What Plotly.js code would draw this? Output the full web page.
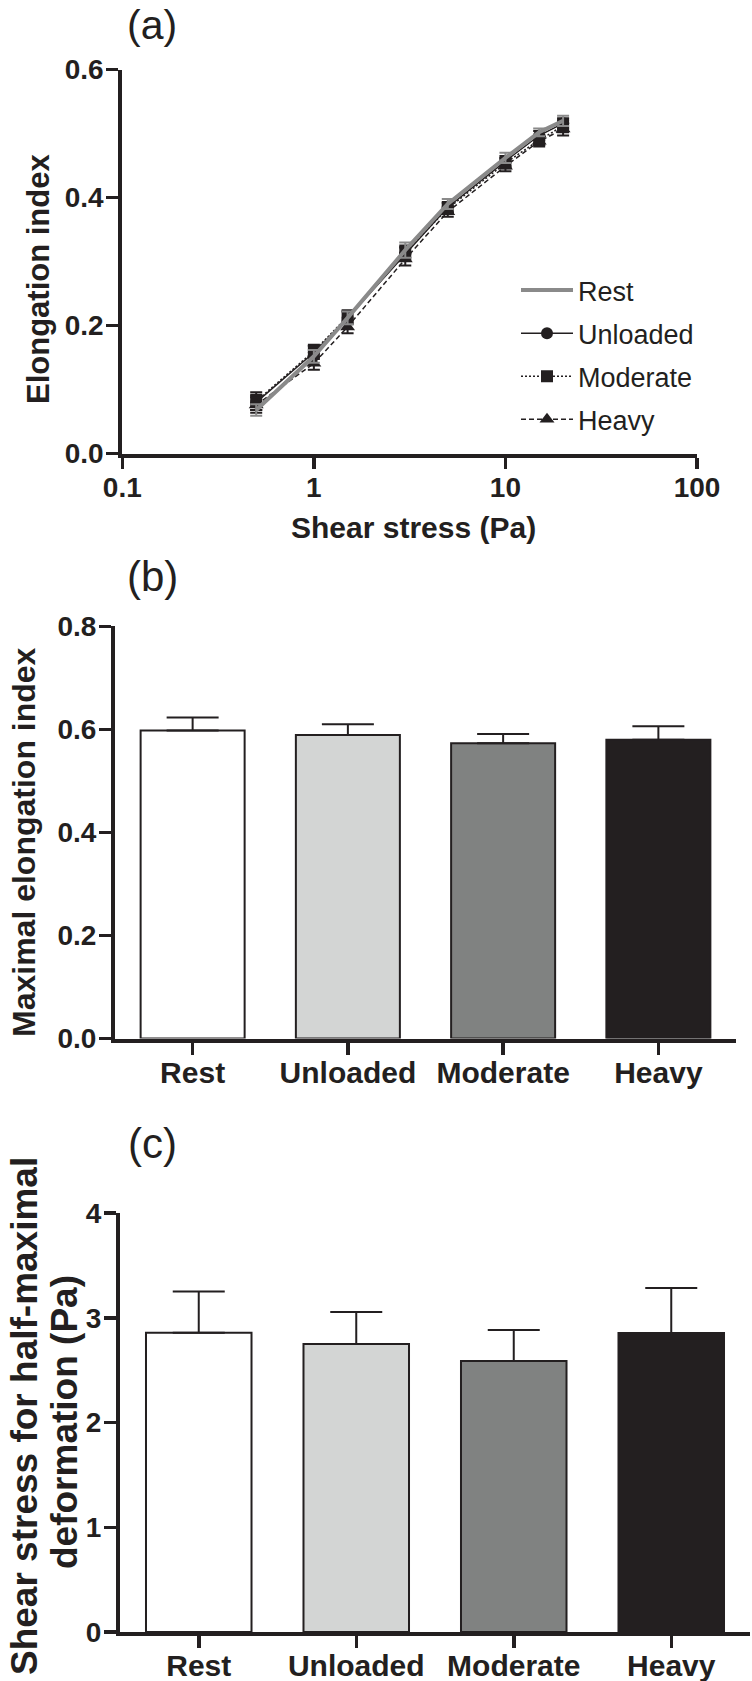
<!DOCTYPE html>
<html>
<head>
<meta charset="utf-8">
<script src="https://cdn.plot.ly/plotly-3.0.1.min.js"></script>
<style>
html,body{margin:0;padding:0;background:#fff;}
#chart{width:752px;height:1681px;}
</style>
</head>
<body>
<div id="chart"></div>
<script>
// ---------- Data ----------
// Panel (a): elongation index vs shear stress
var shearStress = [0.5, 1, 1.5, 3, 5, 10, 15, 20];
var restEI      = [0.068, 0.152, 0.212, 0.318, 0.390, 0.462, 0.502, 0.520];
var restErr     = [0.009, 0.010, 0.010, 0.012, 0.008, 0.008, 0.006, 0.008];
var unloadedEI  = [0.080, 0.158, 0.212, 0.312, 0.385, 0.457, 0.497, 0.516];
var unloadedErr = [0.012, 0.010, 0.010, 0.010, 0.008, 0.008, 0.007, 0.008];
var moderateEI  = [0.082, 0.160, 0.214, 0.315, 0.383, 0.454, 0.490, 0.512];
var moderateErr = [0.014, 0.010, 0.010, 0.010, 0.008, 0.008, 0.008, 0.010];
var heavyEI     = [0.076, 0.141, 0.198, 0.304, 0.378, 0.449, 0.488, 0.507];
var heavyErr    = [0.012, 0.010, 0.010, 0.010, 0.008, 0.008, 0.008, 0.010];

var xTickVals = [0.1, 1, 10, 100];
var xTickText = ['0.1', '1', '10', '100'];

// Panels (b) and (c)
var groups      = ['Rest', 'Unloaded', 'Moderate', 'Heavy'];
var groupColors = ['#ffffff', '#d3d5d4', '#808281', '#231f20'];
var maxEI       = [0.598, 0.589, 0.573, 0.580];
var maxEIErr    = [0.025, 0.021, 0.018, 0.026];
var halfShear   = [2.856, 2.749, 2.587, 2.854];
var halfShearErr= [0.394, 0.306, 0.296, 0.430];

// ---------- Styling helpers ----------
var INK = '#231f20';
var FAM = 'Liberation Sans, Arial, Helvetica, sans-serif';
var W = 752, H = 1681;
function px(x){ return x / W; }
function py(y){ return 1 - y / H; }
function zeros(n){ var a=[]; for(var i=0;i<n;i++) a.push(0); return a; }

function axisBase(extra){
  var base = {
    showline: true, linewidth: 4, linecolor: INK,
    ticks: 'outside', ticklen: 12, tickwidth: 3.5, tickcolor: INK,
    showgrid: false, zeroline: false, fixedrange: true,
    tickfont: {family: FAM, size: 28, color: INK, weight: 'bold'}
  };
  for (var k in extra) base[k] = extra[k];
  return base;
}

// ---------- Traces ----------
var traces = [];
function lineTrace(name, y, err, color, width, dash, symbol, rank, msize){
  var t = {
    type: 'scatter', mode: symbol ? 'lines+markers' : 'lines',
    x: shearStress, y: y, name: name,
    xaxis: 'x', yaxis: 'y',
    legendgroup: name, legendrank: rank,
    line: {color: color, width: width, dash: dash},
    error_y: {type: 'data', array: err, visible: true, color: color, thickness: 2, width: 6}
  };
  if (symbol) t.marker = {symbol: symbol, size: msize, color: INK};
  return t;
}
traces.push(lineTrace('Unloaded', unloadedEI, unloadedErr, INK, 1.5, 'solid', 'circle', 2, 12));
traces.push(lineTrace('Moderate', moderateEI, moderateErr, INK, 1.5, '2px,2px', 'square', 3, 12));
traces.push(lineTrace('Heavy', heavyEI, heavyErr, INK, 1.5, '5px,3px', 'triangle-up', 4, 13));
traces.push(lineTrace('Rest', restEI, restErr, '#8a8a8a', 4, 'solid', null, 1, 0));

function barTrace(y, err, xa, ya){
  return {
    type: 'bar', x: groups, y: y, xaxis: xa, yaxis: ya,
    width: 0.67, showlegend: false,
    marker: {color: groupColors, line: {color: INK, width: 2}},
    error_y: {type: 'data', symmetric: false, array: err, arrayminus: zeros(err.length),
              visible: true, color: INK, thickness: 2, width: 26}
  };
}
traces.push(barTrace(maxEI, maxEIErr, 'x2', 'y2'));
traces.push(barTrace(halfShear, halfShearErr, 'x3', 'y3'));

// ---------- Layout ----------
function ann(text, x, y, size, bold, angle){
  return {
    text: text, xref: 'paper', yref: 'paper', x: px(x), y: py(y),
    xanchor: 'center', yanchor: 'middle', showarrow: false, textangle: angle || 0,
    font: {family: FAM, size: size, color: INK, weight: bold ? 'bold' : 'normal'}
  };
}

var catFont = {family: FAM, size: 30, color: INK, weight: 'bold'};

var layout = {
  width: W, height: H,
  margin: {l: 0, r: 0, t: 0, b: 0},
  paper_bgcolor: '#ffffff', plot_bgcolor: 'rgba(0,0,0,0)',
  showlegend: true,
  legend: {
    x: px(516), y: py(266), xanchor: 'left', yanchor: 'top',
    bgcolor: 'rgba(0,0,0,0)', borderwidth: 0,
    font: {family: FAM, size: 27, color: INK},
    itemwidth: 52, tracegroupgap: 5, traceorder: 'grouped'
  },
  xaxis: axisBase({
    type: 'log', domain: [px(122.3), px(697)], range: [-1, 2], anchor: 'y',
    tickvals: xTickVals, ticktext: xTickText, ticklen: 11, ticklabelstandoff: -5
  }),
  yaxis: axisBase({
    domain: [py(453.6), py(69.6)], range: [0, 0.6], anchor: 'x',
    tick0: 0, dtick: 0.2, tickformat: '.1f', ticklabelstandoff: -3
  }),
  xaxis2: axisBase({
    type: 'category', domain: [px(115), px(736)], range: [-0.5, 3.5], anchor: 'y2',
    tickfont: catFont, ticklabelstandoff: -8
  }),
  yaxis2: axisBase({
    domain: [py(1038.6), py(626.4)], range: [0, 0.8], anchor: 'x2',
    tick0: 0, dtick: 0.2, tickformat: '.1f', ticklabelstandoff: -3
  }),
  xaxis3: axisBase({
    type: 'category', domain: [px(120), px(750)], range: [-0.5, 3.5], anchor: 'y3',
    tickfont: catFont, ticklabelstandoff: -8
  }),
  yaxis3: axisBase({
    domain: [py(1632), py(1213)], range: [0, 4], anchor: 'x3',
    tick0: 0, dtick: 1, tickformat: 'd', ticklabelstandoff: -3
  }),
  annotations: [
    ann('(a)', 152, 25, 41, false),
    ann('(b)', 152, 577, 42, false),
    ann('(c)', 152, 1143, 42, false),
    ann('Shear stress (Pa)', 414, 527, 30, true),
    ann('Elongation index', 38, 279, 31, true, -90),
    ann('Maximal elongation index', 24, 842, 32, true, -90),
    ann('Shear stress for half-maximal', 24, 1416, 37, true, -90),
    ann('deformation (Pa)', 64, 1422, 37, true, -90)
  ]
};

Plotly.newPlot('chart', traces, layout, {staticPlot: true, displayModeBar: false});
</script>
</body>
</html>
